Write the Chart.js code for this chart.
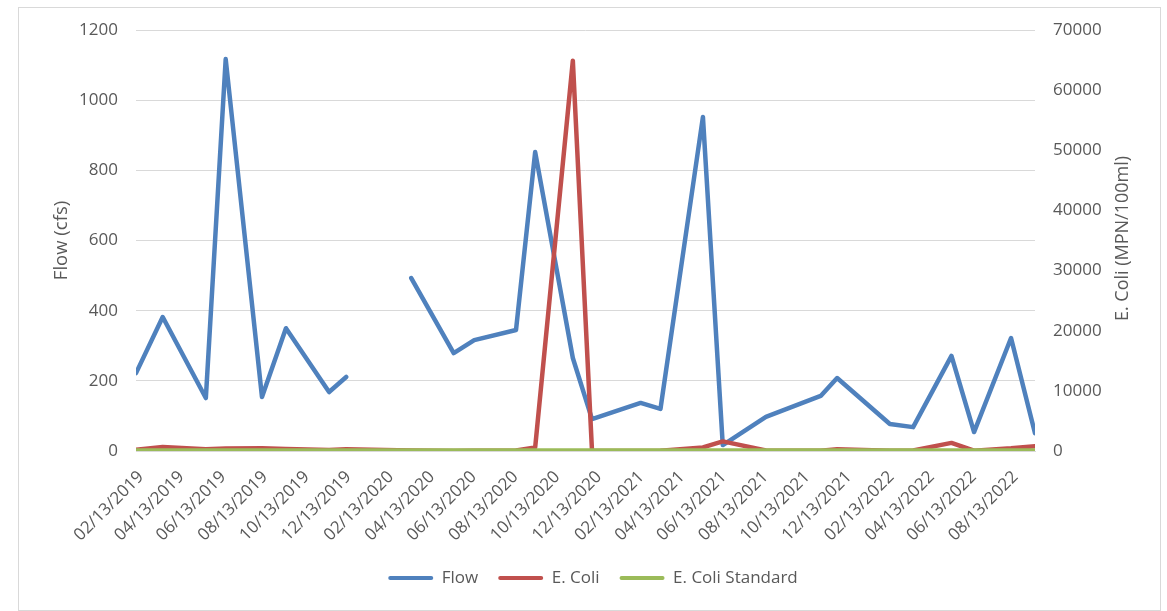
<!DOCTYPE html>
<html>
<head>
<meta charset="utf-8">
<title>Flow and E. Coli</title>
<script src="https://cdn.jsdelivr.net/npm/chart.js@4.4.1/dist/chart.umd.min.js"></script>
<style>
  html, body { margin: 0; padding: 0; background: #ffffff; width: 1167px; height: 611px; overflow: hidden; }
  #frame { position: absolute; left: 18px; top: 7px; width: 1143px; height: 604px; box-sizing: border-box; border: 1px solid #d9d9d9; background: #ffffff; }
  #frame canvas { display: block; }
</style>
</head>
<body>
<div id="frame"><canvas id="chart" width="1141" height="602"></canvas></div>
<script>
// Sampling dates (MM/DD/YYYY)
const sampleDates = [
  '02/13/2019', '03/24/2019', '05/26/2019', '06/24/2019', '08/16/2019', '09/20/2019',
  '11/22/2019', '12/17/2019', '02/11/2020', '03/21/2020', '05/22/2020', '06/21/2020',
  '08/21/2020', '09/18/2020', '11/12/2020', '12/10/2020', '02/19/2021', '03/20/2021',
  '05/21/2021', '06/19/2021', '08/21/2021', '11/09/2021', '12/03/2021', '02/18/2022',
  '03/24/2022', '05/19/2022', '06/21/2022', '08/14/2022', '09/18/2022'
];

// Flow (cfs); null = no flow measurement that day
const flowCfs = [
  222, 382, 151, 1117, 154, 350,
  168, 211, null, 493, 279, 316,
  345, 852, 265, 91, 137, 120,
  952, 17, 97, 157, 208, 77,
  68, 271, 54, 322, 51
];

// E. Coli (MPN/100ml)
const eColi = [
  200, 650, 300, 400, 450, 350,
  170, 300, 150, 100, 20, 30,
  100, 600, 64900, 10, 20, 50,
  600, 1600, 100, 50, 300, 30,
  100, 1350, 50, 450, 800
];

// E. Coli standard (MPN/100ml)
const eColiStandard = [
  126, 126, 126, 126, 126, 126,
  126, 126, 126, 126, 126, 126,
  126, 126, 126, 126, 126, 126,
  126, 126, 126, 126, 126, 126,
  126, 126, 126, 126, 126
];

// Axis ticks
const flowTicks = [0, 200, 400, 600, 800, 1000, 1200];
const eColiTicks = [0, 10000, 20000, 30000, 40000, 50000, 60000, 70000];
const dateTickStart = '02/13/2019';
const dateTickStepMonths = 2;

const seriesNames = ['Flow', 'E. Coli', 'E. Coli Standard'];
const seriesColors = ['#4f81bd', '#c0504d', '#9bbb59'];

const FONT = "'Open Sans', 'Liberation Sans', sans-serif";
const TEXT = '#595959';
const GRID = '#d9d9d9';

function dayNumber(s) {
  const [m, d, y] = s.split('/').map(Number);
  return Date.UTC(y, m - 1, d) / 86400000;
}
function pad2(n) { return (n < 10 ? '0' : '') + n; }
function dayLabel(n) {
  const dt = new Date(Math.round(n) * 86400000);
  return pad2(dt.getUTCMonth() + 1) + '/' + pad2(dt.getUTCDate()) + '/' + dt.getUTCFullYear();
}

const xs = sampleDates.map(dayNumber);
const xMin = xs[0];
const xMax = xs[xs.length - 1];

function dateTicks() {
  const [m0, d0, y0] = dateTickStart.split('/').map(Number);
  const out = [];
  for (let k = 0; ; k++) {
    const mi = (m0 - 1) + k * dateTickStepMonths;
    const v = Date.UTC(y0 + Math.floor(mi / 12), mi % 12, d0) / 86400000;
    if (v > xMax) break;
    out.push({ value: v });
  }
  return out;
}

function series(values) {
  return xs.map((x, i) => ({ x: x, y: values[i] }));
}

// Right-hand axis title, reading bottom to top
const rightTitle = {
  id: 'rightTitle',
  afterDraw(chart) {
    const { ctx, chartArea } = chart;
    ctx.save();
    ctx.font = '18px ' + FONT;
    ctx.fillStyle = TEXT;
    ctx.textAlign = 'center';
    ctx.textBaseline = 'middle';
    ctx.translate(1104, (chartArea.top + chartArea.bottom) / 2 - 2);
    ctx.rotate(-Math.PI / 2);
    ctx.fillText('E. Coli (MPN/100ml)', 0, 0);
    ctx.restore();
  }
};

const lineStyle = (i, width) => ({
  label: seriesNames[i],
  borderColor: seriesColors[i],
  backgroundColor: seriesColors[i],
  borderWidth: width,
  pointRadius: 0,
  pointHoverRadius: 0,
  tension: 0,
  borderJoinStyle: 'round',
  borderCapStyle: 'round',
  spanGaps: false
});

// fixed axis sizes; the value axes keep no extra room above/below the plot
function fixWidth(w) {
  return (scale) => { scale.width = w; scale.paddingTop = 0; scale.paddingBottom = 0; };
}

new Chart(document.getElementById('chart'), {
  type: 'line',
  data: {
    datasets: [
      Object.assign(lineStyle(0, 4.5), { data: series(flowCfs), yAxisID: 'y', order: 2 }),
      Object.assign(lineStyle(1, 4.5), { data: series(eColi), yAxisID: 'y2', order: 1 }),
      Object.assign(lineStyle(2, 4), { data: series(eColiStandard), yAxisID: 'y2', order: 0 })
    ]
  },
  options: {
    responsive: false,
    animation: false,
    events: [],
    layout: { padding: { top: 22, bottom: 13.5, left: 7, right: 0 } },
    scales: {
      x: {
        type: 'linear',
        min: xMin,
        max: xMax,
        grid: { display: false, drawTicks: false },
        border: { display: true, color: GRID, width: 1 },
        afterBuildTicks(scale) { scale.ticks = dateTicks(); },
        afterFit(scale) { scale.height = 98.5; },
        ticks: {
          autoSkip: false,
          minRotation: 45,
          maxRotation: 45,
          padding: 16,
          labelOffset: 5,
          color: TEXT,
          font: { family: FONT, size: 17 },
          callback: (v) => dayLabel(v)
        }
      },
      y: {
        position: 'left',
        min: flowTicks[0],
        max: flowTicks[flowTicks.length - 1],
        afterBuildTicks(scale) { scale.ticks = flowTicks.map(v => ({ value: v })); },
        afterFit: fixWidth(110),
        grid: { color: GRID, lineWidth: 1, drawTicks: false },
        border: { display: false },
        ticks: {
          padding: 18,
          color: TEXT,
          font: { family: FONT, size: 17 },
          callback: (v) => String(v)
        },
        title: {
          display: true,
          text: 'Flow (cfs)',
          color: TEXT,
          font: { family: FONT, size: 18.5 },
          padding: { top: 24.9, bottom: 0 }
        }
      },
      y2: {
        position: 'right',
        min: eColiTicks[0],
        max: eColiTicks[eColiTicks.length - 1],
        afterBuildTicks(scale) { scale.ticks = eColiTicks.map(v => ({ value: v })); },
        afterFit: fixWidth(125),
        grid: { display: false, drawTicks: false },
        border: { display: false },
        ticks: {
          padding: 18,
          color: TEXT,
          font: { family: FONT, size: 17 },
          callback: (v) => String(v)
        }
      }
    },
    plugins: {
      tooltip: { enabled: false },
      legend: {
        position: 'bottom',
        labels: {
          color: TEXT,
          font: { family: FONT, size: 17 },
          boxWidth: 45,
          boxHeight: 4,
          padding: 20,
          sort: (a, b) => a.datasetIndex - b.datasetIndex,
          generateLabels(chart) {
            const items = Chart.defaults.plugins.legend.labels.generateLabels(chart);
            items.forEach(it => { it.fillStyle = it.strokeStyle; it.lineWidth = 0; it.borderRadius = 2; });
            return items;
          }
        }
      }
    }
  },
  plugins: [rightTitle]
});
</script>
</body>
</html>
